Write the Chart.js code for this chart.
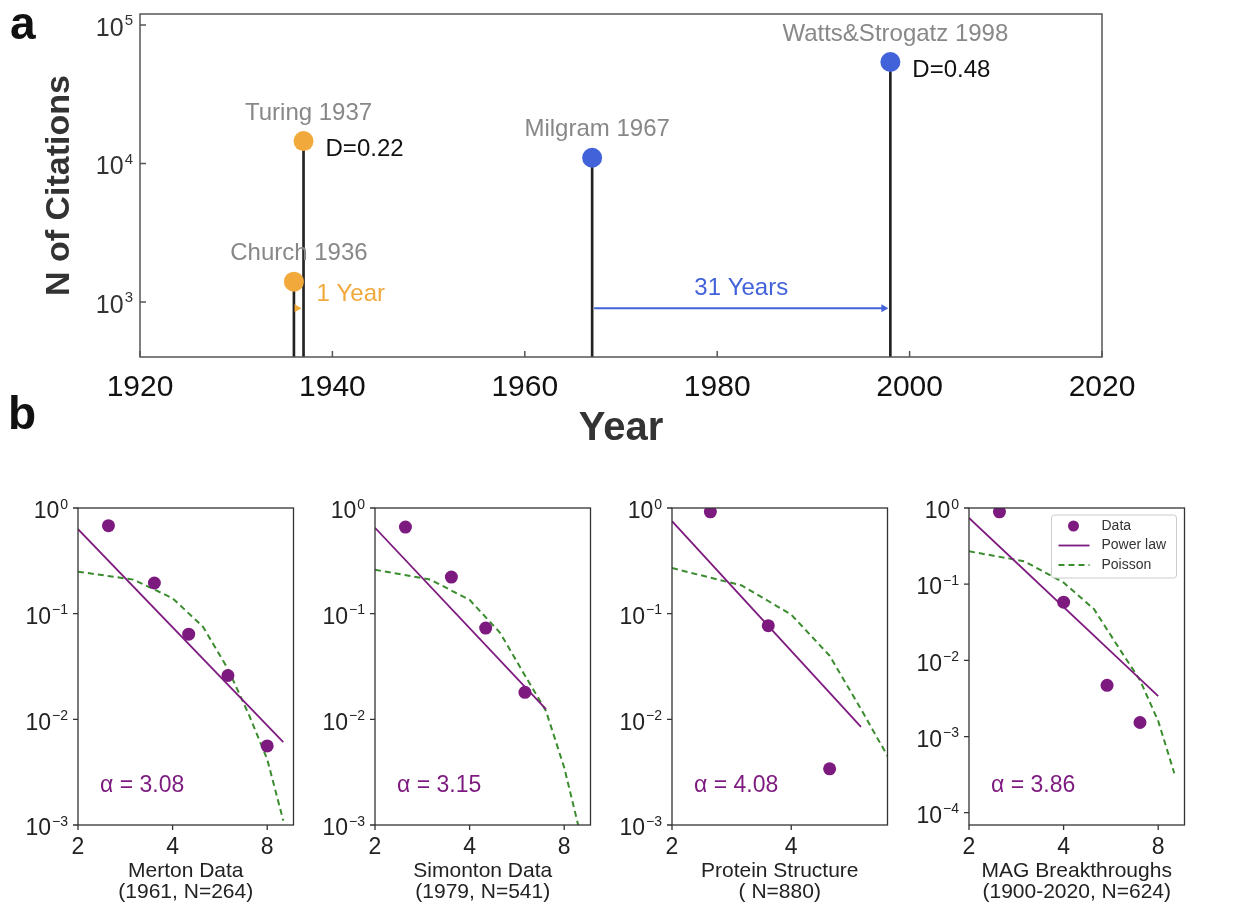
<!DOCTYPE html>
<html>
<head>
<meta charset="utf-8">
<script src="https://cdn.jsdelivr.net/npm/chart.js@4"></script>
<style>
body{margin:0;background:#fff;width:1239px;height:909px;position:relative;overflow:hidden;font-family:"Liberation Sans",Arial,sans-serif}
canvas{position:absolute}
.tag{position:absolute;font-weight:bold;font-size:46px;line-height:1;color:#111}
</style>
</head>
<body>
<canvas id="ca" width="1239" height="460" style="left:0;top:0"></canvas>
<canvas id="cb0" width="300" height="429" style="left:0;top:480px"></canvas>
<canvas id="cb1" width="300" height="429" style="left:297px;top:480px"></canvas>
<canvas id="cb2" width="300" height="429" style="left:594px;top:480px"></canvas>
<canvas id="cb3" width="300" height="429" style="left:891px;top:480px"></canvas>
<div class="tag" style="left:10px;top:0px">a</div>
<div class="tag" style="left:8px;top:390px">b</div>
<script>
// ---- panel a: citations of the paper pairs
const paperNames = ['Church 1936', 'Turing 1937', 'Milgram 1967', 'Watts&Strogatz 1998'];
const paperYears = [1936, 1937, 1967, 1998];
const paperCites = [1400, 14500, 11000, 54000];
const dNames = ['', 'D=0.22', '', 'D=0.48'];
const gapNames = ['1 Year', '31 Years'];
const gapFrom = [1936, 1967];
const gapTo = [1937, 1998];
const gapLevel = [900, 900];
const yearTicks = [1920, 1940, 1960, 1980, 2000, 2020];
const citeTicks = [1e3, 1e4, 1e5];

// ---- panel b: distributions
const panelNames = [['Merton Data', '(1961, N=264)'], ['Simonton Data', '(1979, N=541)'],
  ['Protein Structure', '( N=880)'], ['MAG Breakthroughs', '(1900-2020, N=624)']];
const alphas = ['3.08', '3.15', '4.08', '3.86'];
const dataX = [[2.5, 3.5, 4.5, 6, 8], [2.5, 3.5, 4.5, 6], [2.5, 3.5, 5], [2.5, 4, 5.5, 7]];
const dataY = [[0.68, 0.195, 0.064, 0.026, 0.0056], [0.66, 0.222, 0.073, 0.018],
  [0.92, 0.077, 0.0034], [0.89, 0.058, 0.0047, 0.00153]];
const powerX = [[2, 9.0], [2, 7.0], [2, 6.0], [2, 8]];
const powerY = [[0.63, 0.0061], [0.65, 0.0125], [0.75, 0.0085], [0.74, 0.0034]];
const poissonX = [[2, 3, 4, 5, 6, 7, 8, 9], [2, 3, 4, 5, 6, 7, 8, 8.9],
  [2, 3, 4, 5, 6, 7], [2, 3, 4, 5, 6, 7, 8, 9]];
const poissonY = [[0.25, 0.21, 0.14, 0.075, 0.030, 0.011, 0.0042, 0.0011],
  [0.26, 0.21, 0.135, 0.066, 0.026, 0.012, 0.0035, 0.00095],
  [0.27, 0.185, 0.098, 0.040, 0.0125, 0.0045],
  [0.27, 0.20, 0.105, 0.047, 0.0145, 0.0055, 0.0016, 0.00033]];
const sizeTicks = [[2, 4, 8], [2, 4, 8], [2, 4], [2, 4, 8]];
const probTicks = [[1e-3, 1e-2, 1e-1, 1], [1e-3, 1e-2, 1e-1, 1], [1e-3, 1e-2, 1e-1, 1],
  [1e-4, 1e-3, 1e-2, 1e-1, 1]];
const xMax = [9.7, 9.7, 7.0, 9.7];
const yMin = [1e-3, 1e-3, 1e-3, 6.9e-5];

const fam = '"Liberation Sans", Arial, sans-serif';
const orange = '#F2A93B', blue = '#4262DA', purple = '#7D1A7F', green = '#3A8C2E', grey = '#888888';
const paperColors = [orange, orange, blue, blue];
const gapColors = [orange, blue];

Chart.defaults.font.family = fam;

const pts = (xs, ys) => xs.map((v, k) => ({x: v, y: ys[k]}));

// box, tick marks and 10^n labels
const frame = {
  id: 'frame',
  afterDatasetsDraw(chart, args, o) {
    const {ctx, chartArea: a, scales: {x, y}} = chart;
    ctx.save();
    ctx.strokeStyle = o.color;
    ctx.lineWidth = o.width;
    ctx.strokeRect(a.left, a.top, a.right - a.left, a.bottom - a.top);
    const d = o.inward ? 1 : -1;
    ctx.beginPath();
    x.ticks.forEach(t => {
      const px = x.getPixelForValue(t.value);
      ctx.moveTo(px, a.bottom); ctx.lineTo(px, a.bottom - d * o.tick);
    });
    y.ticks.forEach(t => {
      const py = y.getPixelForValue(t.value);
      ctx.moveTo(a.left, py); ctx.lineTo(a.left + d * o.tick, py);
    });
    ctx.stroke();
    ctx.fillStyle = o.labelColor;
    ctx.textAlign = 'right';
    ctx.textBaseline = 'alphabetic';
    const right = a.left - (o.inward ? 0 : o.tick) - o.gap;
    y.ticks.forEach(t => {
      const py = y.getPixelForValue(t.value);
      const e = Math.round(Math.log10(t.value));
      const sup = e < 0 ? '\u2212' + (-e) : String(e);
      const base = py + o.size * 0.36 + 2;
      ctx.font = o.sup + 'px ' + fam;
      const sw = ctx.measureText(sup).width;
      ctx.fillText(sup, right, base - o.size * 0.42);
      ctx.font = o.size + 'px ' + fam;
      ctx.fillText('10', right - sw - 1, base);
    });
    ctx.restore();
  }
};

// names, D values and year gaps of panel a
const notes = {
  id: 'notes',
  afterDatasetsDraw(chart) {
    const {ctx, scales: {x, y}} = chart;
    ctx.save();
    ctx.font = '24px ' + fam;
    ctx.textBaseline = 'middle';
    paperNames.forEach((n, i) => {
      const px = x.getPixelForValue(paperYears[i]);
      const py = y.getPixelForValue(paperCites[i]);
      ctx.fillStyle = grey;
      ctx.textAlign = 'center';
      ctx.fillText(n, px + 5, py - 28);
      if (dNames[i]) {
        ctx.fillStyle = '#111';
        ctx.textAlign = 'left';
        ctx.fillText(dNames[i], px + 22, py + 8);
      }
    });
    gapNames.forEach((n, i) => {
      const x1 = x.getPixelForValue(gapFrom[i]);
      const x2 = x.getPixelForValue(gapTo[i]);
      const py = y.getPixelForValue(gapLevel[i]);
      ctx.strokeStyle = gapColors[i];
      ctx.fillStyle = gapColors[i];
      ctx.lineWidth = 2;
      if (x2 - x1 > 12) {
        ctx.beginPath(); ctx.moveTo(x1 + 2, py); ctx.lineTo(x2 - 6, py); ctx.stroke();
      }
      ctx.beginPath();
      ctx.moveTo(x2 - 2, py); ctx.lineTo(x2 - 9, py - 4); ctx.lineTo(x2 - 9, py + 4);
      ctx.closePath(); ctx.fill();
      if (x2 - x1 > 60) {
        ctx.textAlign = 'center';
        ctx.fillText(n, (x1 + x2) / 2, py - 20);
      } else {
        ctx.textAlign = 'left';
        ctx.fillText(n, x2 + 13, py - 14);
      }
    });
    ctx.restore();
  }
};

// alpha value and the legend of panel b
const alphaNote = {
  id: 'alphaNote',
  afterDatasetsDraw(chart, args, o) {
    const {ctx, chartArea: a} = chart;
    ctx.save();
    ctx.font = '23px ' + fam;
    ctx.fillStyle = purple;
    ctx.textAlign = 'left';
    ctx.textBaseline = 'middle';
    ctx.fillText('\u03b1 = ' + o.text, a.left + 22, a.bottom - 39);
    if (o.legend) {
      const bx = a.right - 133, by = a.top + 7, bw = 125, bh = 63;
      ctx.fillStyle = 'rgba(255,255,255,0.85)';
      ctx.strokeStyle = '#cccccc';
      ctx.lineWidth = 1;
      ctx.beginPath();
      if (ctx.roundRect) ctx.roundRect(bx, by, bw, bh, 3); else ctx.rect(bx, by, bw, bh);
      ctx.fill(); ctx.stroke();
      chart.data.datasets.forEach((ds, k) => {
        const cy = by + 11 + k * 19.5;
        if (ds.type === 'line') {
          ctx.strokeStyle = ds.borderColor;
          ctx.lineWidth = ds.borderWidth;
          ctx.setLineDash(ds.borderDash || []);
          ctx.beginPath(); ctx.moveTo(bx + 7, cy); ctx.lineTo(bx + 38, cy); ctx.stroke();
          ctx.setLineDash([]);
        } else {
          ctx.fillStyle = ds.backgroundColor;
          ctx.beginPath(); ctx.arc(bx + 22, cy, 5.5, 0, Math.PI * 2); ctx.fill();
        }
        ctx.fillStyle = '#333';
        ctx.font = '14px ' + fam;
        ctx.fillText(ds.label, bx + 50, cy);
      });
    }
    ctx.restore();
  }
};

// panel a
new Chart(document.getElementById('ca'), {
  type: 'scatter',
  data: {
    datasets: [
      {type: 'bar', data: pts(paperYears, paperCites), backgroundColor: '#222', barThickness: 2, order: 2},
      {data: pts(paperYears, paperCites), backgroundColor: paperColors, pointRadius: 10, borderWidth: 0, order: 1}
    ]
  },
  options: {
    responsive: false, animation: false, events: [],
    layout: {padding: {left: 43, right: 137, top: 14, bottom: 11}},
    scales: {
      x: {
        type: 'linear', min: 1920, max: 2020, offset: false,
        grid: {display: false, offset: false}, border: {display: false},
        afterBuildTicks: s => { s.ticks = yearTicks.map(v => ({value: v})); },
        afterFit: s => { s.height = 92; },
        ticks: {font: {size: 30}, color: '#111', padding: 5, maxRotation: 0, autoSkip: false, callback: v => String(v)},
        title: {display: true, text: 'Year', font: {size: 40, weight: 'bold', lineHeight: 1}, color: '#333', padding: 0}
      },
      y: {
        type: 'logarithmic', min: 400, max: 120000,
        grid: {display: false}, border: {display: false},
        afterBuildTicks: s => { s.ticks = citeTicks.map(v => ({value: v})); },
        afterFit: s => { s.width = 97; },
        ticks: {display: false},
        title: {display: true, text: 'N of Citations', font: {size: 34, weight: 'bold', lineHeight: 1}, color: '#333', padding: 0}
      }
    },
    plugins: {
      legend: {display: false}, tooltip: {enabled: false},
      frame: {color: '#555', width: 1.5, tick: 6, inward: true, gap: 7, size: 25, sup: 15, labelColor: '#333'}
    }
  },
  plugins: [frame, notes]
});

// panel b
panelNames.forEach((name, i) => {
  new Chart(document.getElementById('cb' + i), {
    type: 'scatter',
    data: {
      datasets: [
        {label: 'Data', data: pts(dataX[i], dataY[i]), backgroundColor: purple, pointRadius: 6.5, borderWidth: 0, order: 0},
        {type: 'line', label: 'Power law', data: pts(powerX[i], powerY[i]), borderColor: purple,
          borderWidth: 1.8, pointRadius: 0, order: 1},
        {type: 'line', label: 'Poisson', data: pts(poissonX[i], poissonY[i]), borderColor: green,
          borderWidth: 2, borderDash: [6, 4], pointRadius: 0, order: 2}
      ]
    },
    options: {
      responsive: false, animation: false, events: [],
      layout: {padding: {left: 0, right: 3, top: 28, bottom: 6}},
      scales: {
        x: {
          type: 'logarithmic', min: 2, max: xMax[i],
          grid: {display: false}, border: {display: false},
          afterBuildTicks: s => { s.ticks = sizeTicks[i].map(v => ({value: v})); },
          afterFit: s => { s.height = 78; },
          ticks: {font: {size: 23}, color: '#222', padding: 1, maxRotation: 0, autoSkip: false, callback: v => String(v)},
          title: {display: true, text: name, font: {size: 21, lineHeight: 1}, color: '#222', padding: 0}
        },
        y: {
          type: 'logarithmic', min: yMin[i], max: 1,
          grid: {display: false}, border: {display: false},
          afterBuildTicks: s => { s.ticks = probTicks[i].map(v => ({value: v})); },
          afterFit: s => { s.width = 78; },
          ticks: {display: false}
        }
      },
      plugins: {
        legend: {display: false}, tooltip: {enabled: false},
        frame: {color: '#333', width: 1.3, tick: 5, inward: false, gap: 5, size: 23, sup: 14, labelColor: '#222'},
        alphaNote: {text: alphas[i], legend: i === 3}
      }
    },
    plugins: [frame, alphaNote]
  });
});
</script>
</body>
</html>
